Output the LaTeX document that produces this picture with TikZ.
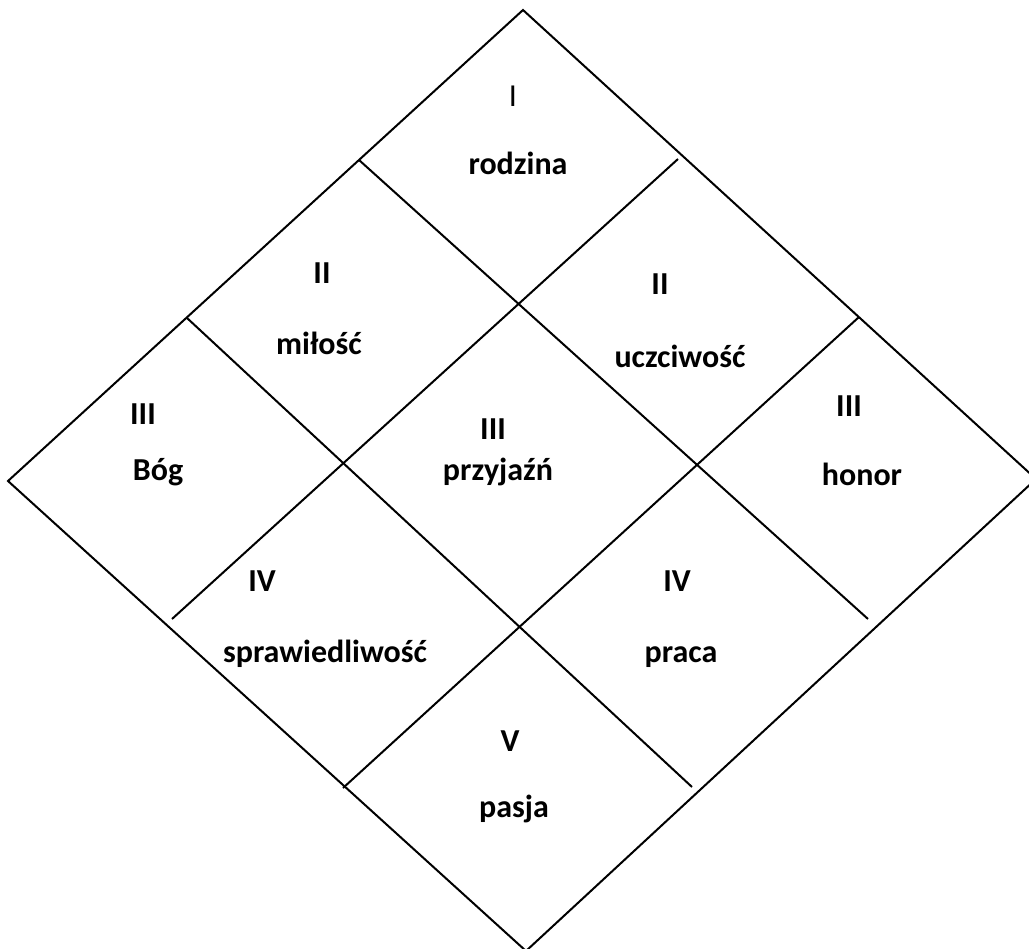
\documentclass[tikz,border=0pt]{standalone}
\usepackage{fontspec}
\setmainfont{Carlito}
\begin{document}
\begin{tikzpicture}[x=0.75pt,y=-0.75pt,
  edge/.style={line width=1.5pt,line cap=butt},
  lbl/.style={font=\fontsize{24}{27}\selectfont\bfseries,anchor=base,inner sep=0pt},
  lblr/.style={font=\fontsize{24}{27}\selectfont,anchor=base,inner sep=0pt}]
\useasboundingbox (0,0) rectangle (1029,949);
\clip (0,0) rectangle (1029,949);
% outer diamond
\coordinate (T) at (523,10);
\coordinate (L) at (8,481);
\coordinate (B) at (526,951);
\coordinate (R) at (1036,479);
\draw[edge,line join=miter] (T) -- (R) -- (B) -- (L) -- cycle;
% interior lines
\coordinate (d1s) at (359,160);
\coordinate (d1e) at (868,619);
\coordinate (d2s) at (187,318);
\coordinate (d2e) at (692,787);
\coordinate (a1s) at (678,159);
\coordinate (a1e) at (172,619);
\coordinate (a2s) at (859,317);
\coordinate (a2e) at (343,788);
\draw[edge] (d1s) -- (d1e);
\draw[edge] (d2s) -- (d2e);
\draw[edge] (a1s) -- (a1e);
\draw[edge] (a2s) -- (a2e);
% labels
\node[lblr] (n1) at (513,107) {I};
\node[lbl] (t1) at (518,175) {rodzina};
\node[lbl] (n2a) at (322,283) {II};
\node[lbl] (t2a) at (319,354) {miłość};
\node[lbl] (n2b) at (660,294) {II};
\node[lbl] (t2b) at (680,367) {uczciwość};
\node[lbl] (n3a) at (143,424) {III};
\node[lbl] (t3a) at (158,480) {Bóg};
\node[lbl] (n3b) at (493,439) {III};
\node[lbl] (t3b) at (498,480) {przyjaźń};
\node[lbl] (n3c) at (849,416) {III};
\node[lbl] (t3c) at (862,485) {honor};
\node[lbl] (n4a) at (262,591) {IV};
\node[lbl] (t4a) at (325,662) {sprawiedliwość};
\node[lbl] (n4b) at (677,591) {IV};
\node[lbl] (t4b) at (681,662) {praca};
\node[lbl] (n5) at (510,751) {V};
\node[lbl] (t5) at (514,817) {pasja};
\end{tikzpicture}
\end{document}
